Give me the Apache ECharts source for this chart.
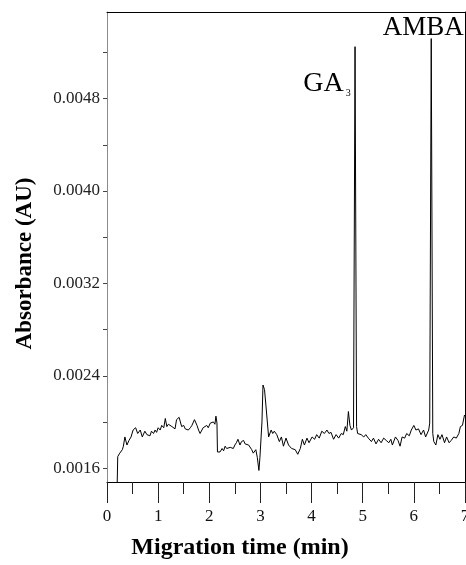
<!DOCTYPE html>
<html>
<head>
<meta charset="utf-8">
<script src="https://cdn.jsdelivr.net/npm/echarts@6/dist/echarts.min.js"></script>
<style>
html,body{margin:0;padding:0;background:#fff;}
#chart{width:466px;height:565px;}
</style>
</head>
<body>
<div id="chart"></div>
<script>
// Migration time (min)
const times = [
0.20,0.21,0.25,0.30,0.32,0.35,0.39,0.43,0.47,0.51,0.56,0.60,0.65,0.69,0.74,0.78,0.81,0.84,0.87,0.91,
0.94,0.97,1.00,1.04,1.07,1.11,1.14,1.17,1.20,1.23,1.27,1.30,1.33,1.36,1.41,1.46,1.50,1.53,1.56,1.59,
1.63,1.66,1.71,1.76,1.79,1.82,1.88,1.95,1.98,2.02,2.08,2.11,2.13,2.15,2.16,2.21,2.25,2.28,2.31,2.34,
2.37,2.41,2.44,2.47,2.50,2.53,2.56,2.60,2.63,2.67,2.70,2.73,2.77,2.80,2.83,2.86,2.91,2.94,2.97,2.99,
3.03,3.05,3.08,3.11,3.13,3.16,3.21,3.24,3.27,3.32,3.37,3.41,3.45,3.50,3.55,3.61,3.68,3.73,3.78,3.82,
3.86,3.91,3.95,4.01,4.06,4.10,4.15,4.20,4.25,4.30,4.34,4.38,4.43,4.48,4.53,4.58,4.62,4.66,4.69,4.72,
4.75,4.78,4.82,4.85,4.88,4.90,4.93,4.97,5.02,5.06,5.11,5.17,5.21,5.26,5.31,5.36,5.41,5.46,5.51,5.55,
5.58,5.64,5.69,5.73,5.77,5.82,5.86,5.91,5.95,6.00,6.04,6.09,6.14,6.19,6.23,6.26,6.29,6.31,6.34,6.37,
6.39,6.43,6.47,6.51,6.55,6.60,6.64,6.69,6.73,6.78,6.83,6.88,6.91,6.95,6.99,7.00
];
// Absorbance (AU)
const absorbance = [
0.00148,0.00170,0.00173,0.00176,0.00179,0.00187,0.00180,0.00184,0.00187,0.00193,0.00195,0.00190,0.00193,0.00187,0.00192,0.00189,0.00190,0.00188,0.00192,0.00190,
0.00193,0.00191,0.00195,0.00193,0.00197,0.00195,0.00203,0.00196,0.00198,0.00199,0.00196,0.00197,0.00194,0.00202,0.00204,0.00196,0.00197,0.00194,0.00195,0.00193,
0.00195,0.00197,0.00202,0.00197,0.00193,0.00190,0.00195,0.00197,0.00195,0.00199,0.00200,0.00198,0.00205,0.00199,0.00174,0.00174,0.00177,0.00175,0.00179,0.00177,
0.00176,0.00178,0.00179,0.00177,0.00180,0.00182,0.00185,0.00180,0.00183,0.00184,0.00181,0.00182,0.00180,0.00179,0.00176,0.00173,0.00176,0.00169,0.00158,0.00169,
0.00200,0.00232,0.00228,0.00213,0.00212,0.00187,0.00193,0.00190,0.00192,0.00189,0.00183,0.00187,0.00179,0.00186,0.00180,0.00177,0.00176,0.00172,0.00177,0.00185,
0.00180,0.00186,0.00182,0.00187,0.00185,0.00189,0.00186,0.00192,0.00190,0.00193,0.00190,0.00191,0.00185,0.00189,0.00186,0.00190,0.00189,0.00196,0.00192,0.00209,
0.00197,0.00193,0.00195,0.00525,0.00196,0.00190,0.00190,0.00189,0.00187,0.00189,0.00186,0.00183,0.00186,0.00181,0.00185,0.00182,0.00186,0.00184,0.00182,0.00185,
0.00180,0.00187,0.00184,0.00179,0.00187,0.00186,0.00190,0.00188,0.00193,0.00197,0.00193,0.00194,0.00189,0.00193,0.00187,0.00186,0.00193,0.00199,0.00532,0.00190,
0.00183,0.00180,0.00189,0.00185,0.00189,0.00182,0.00187,0.00182,0.00184,0.00187,0.00186,0.00190,0.00196,0.00197,0.00206,0.00205
];
// Axis ticks / labels
const xTicks = [0,1,2,3,4,5,6,7];
const yTickValues = [0.0016,0.0020,0.0024,0.0028,0.0032,0.0036,0.0040,0.0044,0.0048,0.0052];
const yLabelValues = [0.0016,0.0024,0.0032,0.0040,0.0048];
// Peak annotations
const peakNames = ['GA', 'AMBA'];
const peakTimes = [4.85, 6.34];
const peakValues = [0.00525, 0.00532];

const FONT = 'Liberation Serif';
const chart = echarts.init(document.getElementById('chart'), null, {renderer:'canvas'});
const data = times.map((t,i)=>[t, absorbance[i]]);

chart.setOption({
  animation:false,
  backgroundColor:'#fff',
  grid:{left:107, right:1, top:12, bottom:83, containLabel:false, outerBoundsMode:'none'},
  xAxis:[{
    type:'value', min:0, max:7, interval:1,
    name:'Migration time (min)', nameLocation:'middle', nameGap:54,
    nameTextStyle:{fontFamily:FONT, fontWeight:'bold', fontSize:24, color:'#000', padding:[0,92,0,0]},
    axisLine:{show:true, onZero:false, lineStyle:{color:'#000', width:1}},
    axisTick:{show:true, inside:false, length:21, lineStyle:{color:'#222'}},
    minorTick:{show:true, splitNumber:2, length:12, lineStyle:{color:'#222'}},
    axisLabel:{fontFamily:FONT, fontSize:17, color:'#111', margin:26,
      customValues:xTicks, formatter:v=>String(v)},
    splitLine:{show:false}
  },{
    type:'value', min:0, max:7, position:'top',
    axisLine:{show:true, onZero:false, lineStyle:{color:'#000', width:1}},
    axisTick:{show:false}, axisLabel:{show:false}, splitLine:{show:false}
  }],
  yAxis:[{
    type:'value', min:0.00148, max:0.00555,
    name:'Absorbance (AU)', nameLocation:'middle', nameGap:70, nameRotate:90,
    nameTextStyle:{fontFamily:FONT, fontWeight:'bold', fontSize:23, color:'#000', padding:[0,33,0,0]},
    axisLine:{show:true, onZero:false, lineStyle:{color:'#8a8a8a', width:1}},
    axisTick:{show:true, inside:false, length:4, customValues:yTickValues, lineStyle:{color:'#444'}},
    axisLabel:{fontFamily:FONT, fontSize:17, color:'#222', margin:7,
      customValues:yLabelValues, formatter:v=>v.toFixed(4)},
    splitLine:{show:false}
  },{
    type:'value', min:0.00148, max:0.00555, position:'right',
    axisLine:{show:true, onZero:false, lineStyle:{color:'#000', width:1}},
    axisTick:{show:false}, axisLabel:{show:false}, splitLine:{show:false}
  }],
  series:[{
    type:'line', data:data, showSymbol:false, symbol:'none',
    lineStyle:{color:'#000', width:1}, clip:true,
    markPoint:{
      symbol:'circle', symbolSize:0, silent:true,
      data:[{
        coord:[peakTimes[0], peakValues[0]],
        label:{show:true, position:'inside', offset:[-28,37],
          formatter:'{g|'+peakNames[0]+'}{s|3}',
          rich:{g:{fontFamily:FONT, fontSize:28, color:'#000'},
                s:{fontFamily:FONT, fontSize:10, color:'#000', verticalAlign:'top', padding:[20,0,0,2]}}}
      },{
        coord:[peakTimes[1], peakValues[1]],
        label:{show:true, position:'inside', offset:[-8,-11],
          formatter:peakNames[1], fontFamily:FONT, fontSize:27, color:'#000'}
      }]
    }
  }]
});
</script>
</body>
</html>
